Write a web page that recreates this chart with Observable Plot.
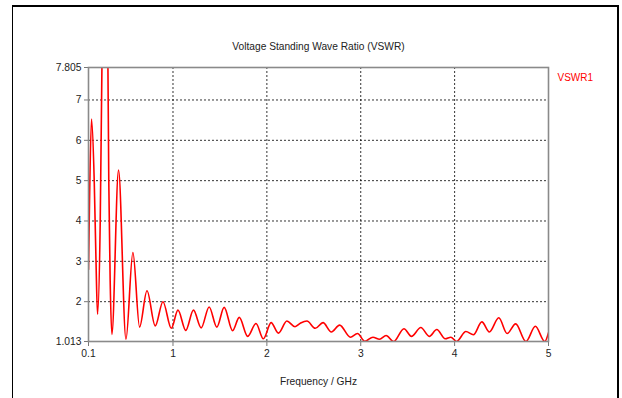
<!DOCTYPE html>
<html>
<head>
<meta charset="utf-8">
<script src="https://cdn.jsdelivr.net/npm/d3@7"></script>
<script src="https://cdn.jsdelivr.net/npm/@observablehq/plot@0.6"></script>
<style>
  html, body { margin: 0; padding: 0; background: #fff; }
  #wrap { position: relative; width: 622px; height: 398px; overflow: hidden; }
  #border { position: absolute; left: 12px; top: 5px; width: 604px; height: 420px;
            border-left: 1px solid #000; border-top: 2px solid #000; border-right: 2px solid #000;
            pointer-events: none; }
</style>
</head>
<body>
<div id="wrap"><div id="border"></div></div>
<script>
// Frequency (GHz) and VSWR values
const freq = [0.100, 0.111, 0.132, 0.161, 0.180, 0.196, 0.225, 0.243, 0.275, 0.307, 0.316, 0.331, 0.349,
  0.420, 0.499, 0.573, 0.644, 0.723, 0.811, 0.893, 0.982, 1.053, 1.136, 1.218, 1.300, 1.385, 1.467,
  1.545, 1.635, 1.706, 1.796, 1.884, 1.963, 2.045, 2.123, 2.213, 2.300, 2.360, 2.427, 2.516, 2.598,
  2.687, 2.775, 2.890, 2.965, 3.043, 3.130, 3.200, 3.270, 3.350, 3.460, 3.540, 3.640, 3.730, 3.810,
  3.900, 3.960, 4.020, 4.120, 4.200, 4.290, 4.370, 4.470, 4.560, 4.650, 4.760, 4.860, 4.960, 5.000];
const vswr = [2.80, 4.50, 6.53, 5.00, 3.00, 1.69, 4.00, 7.80, 11.0, 7.80, 5.00, 2.50, 1.19,
  5.26, 1.07, 3.22, 1.37, 2.27, 1.40, 2.00, 1.34, 1.79, 1.29, 1.79, 1.35, 1.87, 1.37,
  1.86, 1.28, 1.61, 1.14, 1.46, 1.08, 1.48, 1.22, 1.52, 1.38, 1.47, 1.52, 1.34, 1.48,
  1.25, 1.42, 1.12, 1.21, 1.02, 1.12, 1.07, 1.16, 1.01, 1.33, 1.14, 1.36, 1.14, 1.31,
  1.08, 1.12, 1.013, 1.26, 1.18, 1.50, 1.25, 1.60, 1.21, 1.45, 1.013, 1.39, 1.013, 1.23];

const xTicks = [0.1, 1, 2, 3, 4, 5];
const yTicks = [1.013, 2, 3, 4, 5, 6, 7, 7.805];
const xGrid = [1, 2, 3, 4];
const yGrid = [2, 3, 4, 5, 6, 7];

const titleText = "Voltage Standing Wave Ratio (VSWR)";
const xLabel = "Frequency / GHz";
const seriesName = "VSWR1";

const data = freq.map((f, i) => ({f, v: vswr[i]}));
const font = "Liberation Sans, Arial, sans-serif";

const chart = Plot.plot({
  width: 622,
  height: 398,
  marginLeft: 88,
  marginRight: 74,
  marginTop: 67,
  marginBottom: 57,
  style: {fontFamily: font, fontSize: "10.3px", color: "#222", background: "transparent"},
  x: {domain: [0.1, 5], label: null},
  y: {domain: [1.013, 7.805], label: null},
  marks: [
    Plot.gridX(xGrid, {stroke: "#000", strokeOpacity: 0.8, strokeDasharray: "2,2"}),
    Plot.gridY(yGrid, {stroke: "#000", strokeOpacity: 0.8, strokeDasharray: "2,2"}),
    Plot.axisX({ticks: xTicks, tickSize: 5, tickPadding: 3, tickFormat: d => String(d), stroke: "#777", fill: "#222"}),
    Plot.axisY({ticks: yTicks, tickSize: 4, tickPadding: 3, tickFormat: d => String(d), stroke: "#777", fill: "#222"}),
    Plot.line(data, {x: "f", y: "v", stroke: "#ff0000", strokeWidth: 1.6, curve: "monotone-x", clip: true}),
    Plot.frame({stroke: "#8a8a8a", strokeWidth: 1.6}),
    Plot.text([titleText], {frameAnchor: "top", dy: -25, fontSize: 10.2, fill: "#222"}),
    Plot.text([xLabel], {frameAnchor: "bottom", dy: 43, fontSize: 10.2, fill: "#222"}),
    Plot.text([seriesName], {frameAnchor: "top-right", dx: 9, dy: 6, textAnchor: "start", fontSize: 10, fill: "#ff0000"})
  ]
});
document.getElementById("wrap").prepend(chart);
</script>
</body>
</html>
